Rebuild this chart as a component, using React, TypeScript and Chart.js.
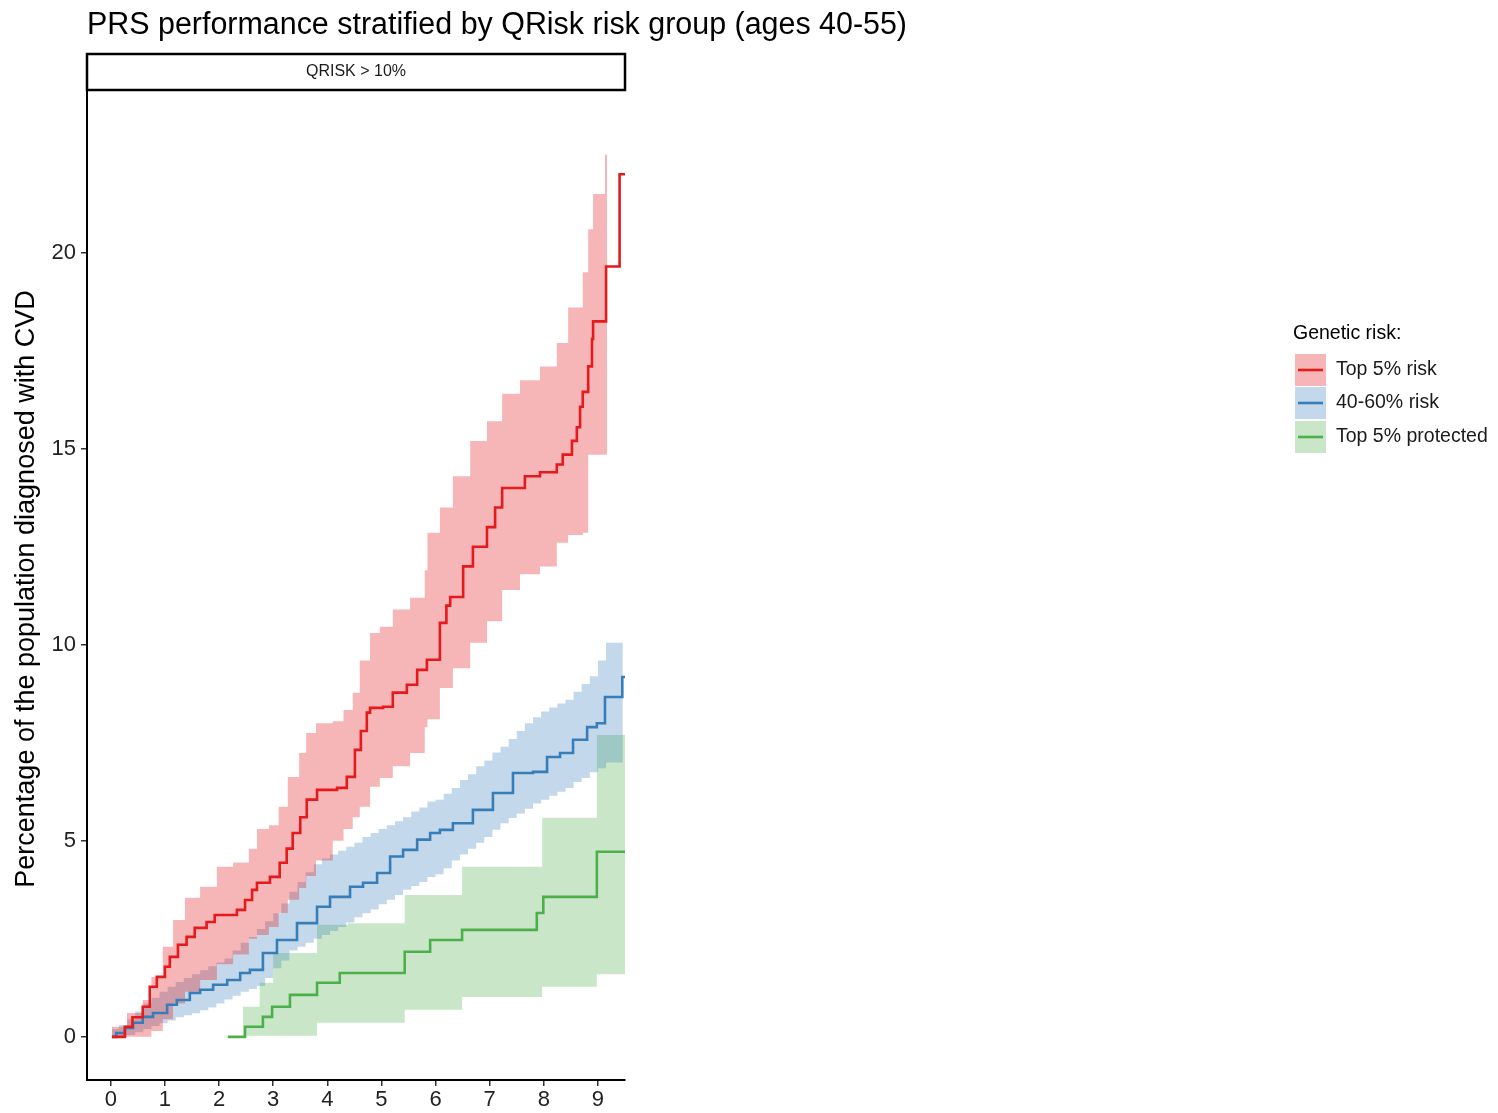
import React, { useEffect, useRef } from "react";
import { Chart, registerables } from "chart.js";

Chart.register(...registerables);

// ---- Text ----
const CHART_TITLE = "PRS performance stratified by QRisk risk group (ages 40-55)";
const PANEL_LABEL = "QRISK > 10%";
const Y_TITLE = "Percentage of the population diagnosed with CVD";
const LEGEND_TITLE = "Genetic risk:";
const groupNames = ["Top 5% risk", "40-60% risk", "Top 5% protected"];
const groupColors = ["#E41A1C", "#377EB8", "#4DAF4A"];
const bandColors = ["rgba(228,26,28,0.32)", "rgba(55,126,184,0.30)", "rgba(77,175,74,0.30)"];

// ---- Axes ----
const xTicks = [0, 1, 2, 3, 4, 5, 6, 7, 8, 9];
const yTicks = [0, 5, 10, 15, 20];

// ---- Top 5% risk: cumulative incidence (years, %) ----
const riskTime = [0.02, 0.26, 0.4, 0.59, 0.72, 0.85, 1.0, 1.09, 1.24, 1.4, 1.55, 1.77, 1.92, 2.33, 2.48, 2.61, 2.7, 2.94, 3.12, 3.25, 3.36, 3.5, 3.62, 3.81, 4.18, 4.36, 4.51, 4.62, 4.73, 4.79, 5.03, 5.21, 5.47, 5.66, 5.84, 6.08, 6.2, 6.27, 6.51, 6.69, 6.95, 7.1, 7.23, 7.65, 7.93, 8.24, 8.35, 8.52, 8.61, 8.67, 8.72, 8.82, 8.89, 8.91, 9.15, 9.4, 9.54];
const riskPct = [0, 0.26, 0.5, 0.77, 1.28, 1.53, 1.79, 2.04, 2.35, 2.55, 2.78, 2.93, 3.11, 3.24, 3.49, 3.75, 3.93, 4.08, 4.44, 4.8, 5.2, 5.6, 6.05, 6.3, 6.35, 6.63, 7.32, 7.8, 8.27, 8.39, 8.42, 8.78, 8.98, 9.36, 9.62, 10.56, 11.0, 11.22, 12.0, 12.5, 13.0, 13.5, 14.0, 14.3, 14.4, 14.6, 14.85, 15.2, 15.55, 16.07, 16.45, 17.1, 17.8, 18.25, 19.65, 22.0, 22.0];
const riskBandTime = [0.02, 0.3, 0.59, 0.75, 0.96, 1.15, 1.37, 1.65, 1.96, 2.26, 2.55, 2.7, 2.92, 3.1, 3.27, 3.48, 3.61, 3.79, 4.1, 4.3, 4.47, 4.6, 4.79, 4.97, 5.21, 5.53, 5.8, 5.85, 6.08, 6.32, 6.64, 6.95, 7.23, 7.56, 7.93, 8.24, 8.45, 8.72, 8.82, 8.91, 9.13, 9.17];
const riskUpper = [0.26, 0.61, 0.94, 1.53, 2.3, 2.98, 3.55, 3.83, 4.34, 4.45, 4.8, 5.3, 5.4, 5.87, 6.63, 7.24, 7.75, 8.0, 8.05, 8.34, 8.78, 9.6, 10.3, 10.46, 10.9, 11.2, 11.9, 12.86, 13.5, 14.3, 15.2, 15.7, 16.4, 16.75, 17.1, 17.7, 18.6, 19.5, 20.6, 21.5, 22.5, 22.5];
const riskLower = [0, 0, 0, 0.15, 0.45, 0.85, 1.15, 1.45, 1.85, 2.1, 2.5, 2.6, 2.8, 3.16, 3.5, 3.8, 4.1, 4.5, 5.0, 5.3, 5.6, 5.87, 6.38, 6.6, 6.9, 7.24, 7.9, 8.1, 8.9, 9.4, 10.05, 10.6, 11.4, 11.8, 12.0, 12.6, 12.8, 12.86, 14.85, 14.85, 14.85, 14.85];

// ---- 40-60% risk ----
const midTime = [0.02, 0.1, 0.26, 0.41, 0.59, 0.78, 1.04, 1.22, 1.46, 1.65, 1.89, 2.15, 2.39, 2.57, 2.81, 3.07, 3.44, 3.81, 4.05, 4.42, 4.66, 4.92, 5.16, 5.4, 5.66, 5.9, 6.08, 6.32, 6.69, 7.06, 7.43, 7.8, 8.06, 8.3, 8.54, 8.8, 8.98, 9.13, 9.45, 9.5];
const midPct = [0, 0.1, 0.23, 0.36, 0.51, 0.61, 0.82, 0.94, 1.12, 1.2, 1.33, 1.45, 1.63, 1.71, 2.14, 2.47, 2.9, 3.32, 3.57, 3.83, 3.93, 4.18, 4.6, 4.77, 5.03, 5.2, 5.28, 5.45, 5.79, 6.22, 6.73, 6.76, 7.14, 7.24, 7.58, 7.9, 8.0, 8.67, 9.18, 9.18];
const midBandTime = [0.02, 0.15, 0.3, 0.45, 0.6, 0.75, 0.9, 1.05, 1.2, 1.35, 1.5, 1.65, 1.8, 1.95, 2.1, 2.25, 2.4, 2.55, 2.7, 2.85, 3.0, 3.15, 3.3, 3.45, 3.6, 3.75, 3.9, 4.05, 4.2, 4.35, 4.5, 4.65, 4.8, 4.95, 5.1, 5.25, 5.4, 5.55, 5.7, 5.85, 6.0, 6.15, 6.3, 6.45, 6.6, 6.75, 6.9, 7.05, 7.2, 7.35, 7.5, 7.65, 7.8, 7.95, 8.1, 8.25, 8.4, 8.55, 8.7, 8.85, 9.0, 9.15, 9.46];
const midUpper = [0.2, 0.3, 0.45, 0.65, 0.85, 1.0, 1.15, 1.28, 1.4, 1.5, 1.6, 1.7, 1.8, 1.9, 2.0, 2.2, 2.4, 2.55, 2.75, 2.95, 3.15, 3.4, 3.7, 3.95, 4.2, 4.4, 4.55, 4.65, 4.75, 4.85, 4.95, 5.1, 5.2, 5.3, 5.4, 5.5, 5.6, 5.75, 5.85, 6.0, 6.05, 6.2, 6.35, 6.55, 6.7, 6.9, 7.05, 7.25, 7.4, 7.6, 7.8, 8.0, 8.15, 8.3, 8.4, 8.5, 8.6, 8.8, 9.0, 9.2, 9.6, 10.05, 10.05];
const midLower = [0, 0, 0.05, 0.12, 0.2, 0.28, 0.35, 0.42, 0.5, 0.55, 0.6, 0.68, 0.75, 0.85, 0.95, 1.05, 1.15, 1.22, 1.3, 1.5, 1.75, 1.95, 2.2, 2.3, 2.4, 2.5, 2.6, 2.7, 2.8, 2.92, 3.05, 3.15, 3.25, 3.38, 3.5, 3.62, 3.75, 3.85, 3.95, 4.08, 4.15, 4.3, 4.5, 4.65, 4.8, 4.95, 5.1, 5.28, 5.45, 5.58, 5.7, 5.82, 5.95, 6.05, 6.15, 6.25, 6.35, 6.5, 6.6, 6.75, 6.85, 7.0, 7.0];

// ---- Top 5% protected ----
const protTime = [2.16, 2.48, 2.81, 2.98, 3.31, 3.81, 4.23, 5.43, 5.9, 6.49, 7.87, 7.99, 8.98, 9.5];
const protPct = [0, 0.26, 0.51, 0.77, 1.07, 1.38, 1.63, 2.17, 2.47, 2.73, 3.16, 3.57, 4.72, 4.72];
const protBandTime = [2.44, 2.75, 3.0, 3.81, 4.38, 5.43, 6.49, 7.97, 8.98, 9.5];
const protUpper = [0.77, 1.38, 2.14, 2.86, 2.9, 3.62, 4.34, 5.59, 7.7, 7.7];
const protLower = [0.03, 0.03, 0.03, 0.36, 0.36, 0.69, 1.02, 1.28, 1.6, 1.6];

const FONT = '"Liberation Sans", Arial, Helvetica, sans-serif';

const toPoints = (xs: number[], ys: number[]) => xs.map((x, i) => ({ x, y: ys[i] }));

const bandPair = (xs: number[], up: number[], lo: number[], color: string) => [
  {
    data: toPoints(xs, up),
    stepped: true,
    fill: "+1",
    backgroundColor: color,
    borderColor: "transparent",
    borderWidth: 0,
    pointRadius: 0,
  },
  {
    data: toPoints(xs, lo),
    stepped: true,
    fill: false,
    borderColor: "transparent",
    borderWidth: 0,
    pointRadius: 0,
  },
];

const stepLine = (xs: number[], ys: number[], color: string) => ({
  data: toPoints(xs, ys),
  stepped: true,
  fill: false,
  borderColor: color,
  borderWidth: 2.6,
  pointRadius: 0,
});

// Title, facet strip, rotated y title and the legend
const decorations = {
  id: "decorations",
  afterDraw(chart: any) {
    const ctx: CanvasRenderingContext2D = chart.ctx;
    const { left, right, top, bottom } = chart.chartArea;
    ctx.save();

    ctx.fillStyle = "#000";
    ctx.textAlign = "left";
    ctx.textBaseline = "alphabetic";
    ctx.font = `31px ${FONT}`;
    ctx.fillText(CHART_TITLE, 87, 34, 820);

    ctx.fillStyle = "#fff";
    ctx.fillRect(left, 54, right - left, top - 54);
    ctx.strokeStyle = "#000";
    ctx.lineWidth = 2.5;
    ctx.strokeRect(left, 54, right - left, top - 54);
    ctx.fillStyle = "#1a1a1a";
    ctx.font = `16px ${FONT}`;
    ctx.textAlign = "center";
    ctx.textBaseline = "middle";
    ctx.fillText(PANEL_LABEL, (left + right) / 2, 72);

    ctx.save();
    ctx.translate(27, (top + bottom) / 2 + 4);
    ctx.rotate(-Math.PI / 2);
    ctx.fillStyle = "#000";
    ctx.font = `27px ${FONT}`;
    ctx.textAlign = "center";
    ctx.textBaseline = "middle";
    ctx.fillText(Y_TITLE, 0, 0, 600);
    ctx.restore();

    // legend
    const lx = 1295;
    ctx.textAlign = "left";
    ctx.textBaseline = "middle";
    ctx.fillStyle = "#000";
    ctx.font = `19.5px ${FONT}`;
    ctx.fillText(LEGEND_TITLE, 1293, 334, 110);
    const rowY = [370, 403, 437];
    groupNames.forEach((name, i) => {
      const cy = rowY[i];
      ctx.fillStyle = bandColors[i];
      ctx.fillRect(lx, cy - 16, 31, 32);
      ctx.strokeStyle = groupColors[i];
      ctx.lineWidth = 2.6;
      ctx.beginPath();
      ctx.moveTo(lx + 3, cy);
      ctx.lineTo(lx + 28, cy);
      ctx.stroke();
      ctx.fillStyle = "#1a1a1a";
      ctx.font = `19.5px ${FONT}`;
      ctx.fillText(name, 1336, cy, 160);
    });

    ctx.restore();
  },
};

export default function App() {
  const ref = useRef<HTMLCanvasElement>(null);

  useEffect(() => {
    const canvas = ref.current;
    if (!canvas) return;
    const datasets: any[] = [
      ...bandPair(riskBandTime, riskUpper, riskLower, bandColors[0]),
      ...bandPair(midBandTime, midUpper, midLower, bandColors[1]),
      ...bandPair(protBandTime, protUpper, protLower, bandColors[2]),
      stepLine(riskTime, riskPct, groupColors[0]),
      stepLine(midTime, midPct, groupColors[1]),
      stepLine(protTime, protPct, groupColors[2]),
    ];
    const chart = new Chart(canvas, {
      type: "line",
      data: { datasets },
      options: {
        animation: false,
        responsive: false,
        devicePixelRatio: 1,
        layout: { padding: { left: 0, top: 90, right: 873, bottom: 0 } },
        plugins: {
          legend: { display: false },
          title: { display: false },
          tooltip: { enabled: false },
          filler: { drawTime: "beforeDatasetsDraw" },
        } as any,
        scales: {
          x: {
            type: "linear",
            min: -0.44,
            max: 9.5,
            afterBuildTicks: (s: any) => {
              s.ticks = xTicks.map((v) => ({ value: v }));
            },
            afterFit: (s: any) => {
              s.height = 33;
            },
            border: { display: true, color: "#000", width: 2 },
            grid: { drawOnChartArea: false, drawTicks: true, tickLength: 6, color: "#333", lineWidth: 1.5 },
            ticks: { color: "#222", font: { family: FONT, size: 22 }, padding: 1, maxRotation: 0, autoSkip: false },
          },
          y: {
            type: "linear",
            min: -1.1,
            max: 24.15,
            afterBuildTicks: (s: any) => {
              s.ticks = yTicks.map((v) => ({ value: v }));
            },
            afterFit: (s: any) => {
              s.width = 87;
            },
            border: { display: true, color: "#000", width: 2 },
            grid: { drawOnChartArea: false, drawTicks: true, tickLength: 6, color: "#333", lineWidth: 1.5 },
            ticks: { color: "#222", font: { family: FONT, size: 22 }, padding: 5 },
          },
        },
      },
      plugins: [decorations],
    });
    return () => chart.destroy();
  }, []);

  return (
    <div style={{ position: "absolute", left: 0, top: 0, width: 1498, height: 1113, background: "#fff" }}>
      <canvas ref={ref} width={1498} height={1113} style={{ display: "block" }} />
    </div>
  );
}
